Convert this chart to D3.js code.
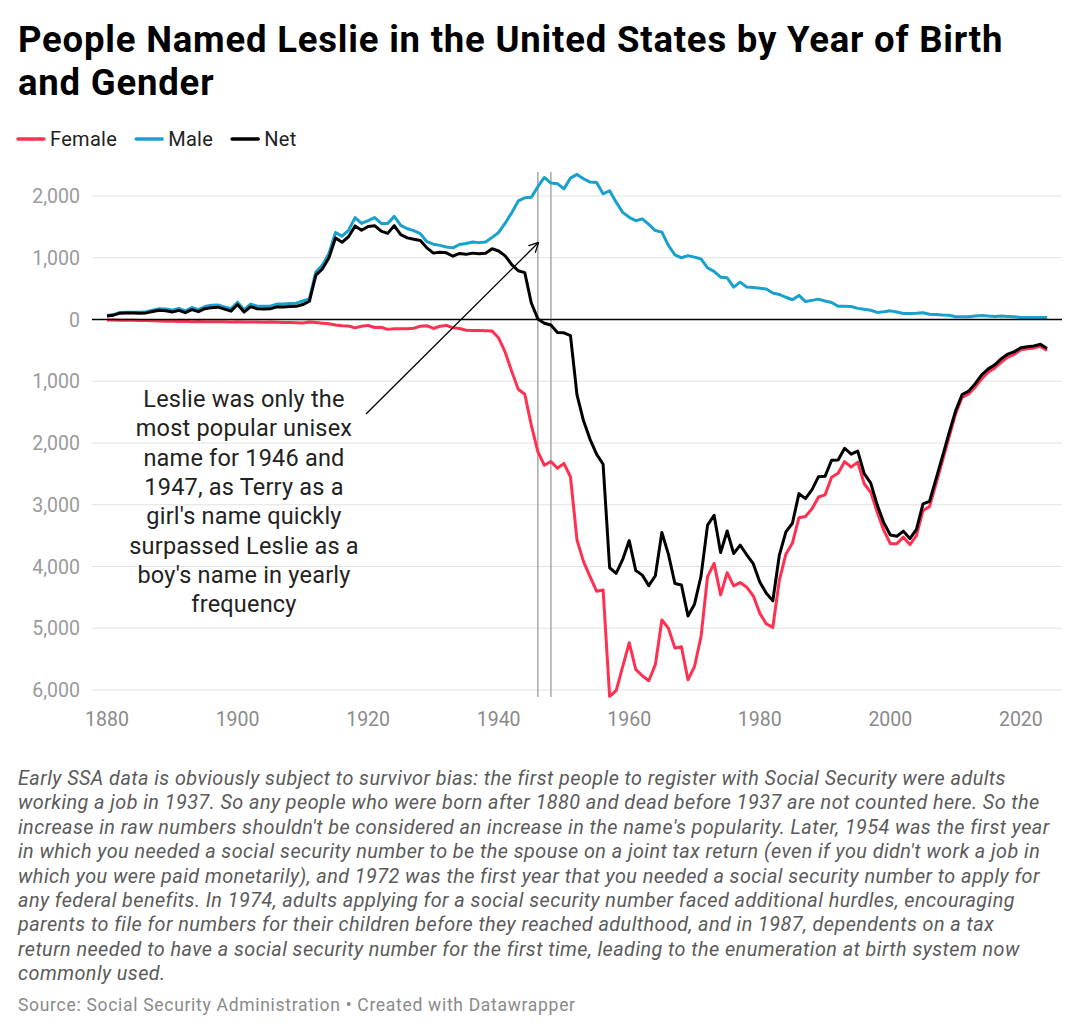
<!DOCTYPE html>
<html>
<head>
<meta charset="utf-8">
<script src="https://cdn.jsdelivr.net/npm/d3@7"></script>
<style>
  body { margin: 0; background: #fff; font-family: Roboto, "Noto Sans", sans-serif; }
  svg { display: block; }
</style>
</head>
<body>
<div id="chart"></div>
<script>
const WIDTH = 1080;
const HEIGHT = 1034;

const FIRST_YEAR = 1880;
const LAST_YEAR = 2024;

// births per year (1880 .. 2024)
const male = [
  65, 80, 115, 118, 118, 118, 125, 150, 175, 170,
  150, 180, 140, 195, 160, 210, 230, 235, 205, 175,
  280, 160, 250, 215, 215, 215, 250, 250, 260, 265,
  300, 335, 770, 880, 1070, 1410, 1350, 1445, 1650, 1555,
  1600, 1650, 1555, 1555, 1670, 1525, 1470, 1440, 1390, 1260,
  1220, 1200, 1175, 1160, 1215, 1230, 1255, 1245, 1255, 1330,
  1410, 1560, 1730, 1920, 1970, 1978, 2150, 2300, 2210, 2200,
  2115, 2290, 2350, 2280, 2225, 2220, 2035, 2085, 1900, 1735,
  1655, 1600, 1630, 1540, 1440, 1415, 1200, 1045, 1000, 1035,
  1010, 980, 835, 780, 685, 675, 525, 605, 525, 520,
  505, 495, 430, 405, 360, 320, 390, 290, 310, 330,
  300, 275, 215, 215, 210, 180, 165, 150, 115, 125,
  140, 120, 97, 97, 100, 108, 85, 80, 72, 70,
  45, 45, 45, 55, 65, 55, 50, 55, 50, 45,
  32, 32, 33, 33, 32
];

const female = [
  10, 10, 12, 12, 14, 15, 18, 22, 25, 28,
  30, 32, 30, 35, 33, 35, 38, 35, 37, 40,
  38, 40, 42, 40, 45, 42, 45, 48, 48, 52,
  58, 40, 50, 60, 70, 90, 100, 105, 135, 110,
  95, 130, 125, 160, 150, 150, 148, 140, 110, 100,
  145, 110, 95, 135, 145, 175, 180, 180, 182, 185,
  300, 530, 840, 1130, 1210, 1710, 2140, 2360, 2300, 2410,
  2330, 2550, 3570, 3920, 4165, 4400, 4380, 6105, 6010, 5620,
  5235, 5665, 5770, 5850, 5590, 4865, 5000, 5320, 5300, 5835,
  5620, 5135, 4165, 3950, 4460, 4100, 4315, 4260, 4335, 4475,
  4755, 4930, 4985, 4220, 3800, 3620, 3210, 3190, 3065, 2875,
  2840, 2555, 2490, 2300, 2390, 2310, 2660, 2800, 3120, 3415,
  3630, 3630, 3525, 3645, 3500, 3095, 3030, 2660, 2285, 1905,
  1525, 1260, 1205, 1095, 960, 855, 785, 690, 610, 565,
  490, 475, 460, 435, 500
];

const net = [
  55, 70, 103, 106, 104, 103, 107, 128, 150, 142,
  120, 148, 110, 160, 127, 175, 192, 200, 168, 135,
  242, 120, 208, 175, 170, 173, 205, 202, 212, 213,
  242, 295, 720, 820, 1000, 1320, 1250, 1340, 1515, 1445,
  1505, 1520, 1430, 1395, 1520, 1375, 1322, 1300, 1280, 1160,
  1075, 1090, 1080, 1025, 1070, 1055, 1075, 1065, 1073, 1145,
  1110, 1030, 890, 790, 760, 268, 10, -60, -90, -210,
  -215, -260, -1220, -1640, -1940, -2180, -2345, -4020, -4110, -3885,
  -3580, -4065, -4140, -4310, -4150, -3450, -3800, -4275, -4300, -4800,
  -4610, -4155, -3330, -3170, -3775, -3425, -3790, -3655, -3810, -3955,
  -4250, -4435, -4555, -3815, -3440, -3300, -2820, -2900, -2755, -2545,
  -2540, -2280, -2275, -2085, -2180, -2130, -2495, -2650, -3005, -3290,
  -3490, -3510, -3428, -3548, -3400, -2987, -2945, -2580, -2213, -1835,
  -1480, -1215, -1160, -1040, -895, -800, -735, -635, -560, -520,
  -458, -443, -427, -402, -468
];

const yTicks = [2000, 1000, 0, -1000, -2000, -3000, -4000, -5000, -6000];
const xTicks = [1880, 1900, 1920, 1940, 1960, 1980, 2000, 2020];
const markedYears = [1946, 1948];

const seriesNames = ["Female", "Male", "Net"];
const seriesColors = ["#ff3152", "#18a1cd", "#000000"];

const titleLines = [
  "People Named Leslie in the United States by Year of Birth",
  "and Gender"
];
const annotationLines = [
  "Leslie was only the",
  "most popular unisex",
  "name for 1946 and",
  "1947, as Terry as a",
  "girl's name quickly",
  "surpassed Leslie as a",
  "boy's name in yearly",
  "frequency"
];
const noteLines = [
  "Early SSA data is obviously subject to survivor bias: the first people to register with Social Security were adults",
  "working a job in 1937. So any people who were born after 1880 and dead before 1937 are not counted here. So the",
  "increase in raw numbers shouldn't be considered an increase in the name's popularity. Later, 1954 was the first year",
  "in which you needed a social security number to be the spouse on a joint tax return (even if you didn't work a job in",
  "which you were paid monetarily), and 1972 was the first year that you needed a social security number to apply for",
  "any federal benefits. In 1974, adults applying for a social security number faced additional hurdles, encouraging",
  "parents to file for numbers for their children before they reached adulthood, and in 1987, dependents on a tax",
  "return needed to have a social security number for the first time, leading to the enumeration at birth system now",
  "commonly used."
];
const sourceText = "Source: Social Security Administration \u2022 Created with Datawrapper";

const years = d3.range(FIRST_YEAR, LAST_YEAR + 1);
const rows = years.map((y, i) => ({
  year: y,
  female: -female[i],
  male: male[i],
  net: net[i]
}));

const svg = d3.select("#chart").append("svg")
  .attr("width", WIDTH)
  .attr("height", HEIGHT);

// title
svg.append("text")
  .attr("x", 18)
  .attr("y", 52)
  .attr("font-size", 36.5)
  .attr("font-weight", 700)
  .attr("letter-spacing", 0.8)
  .attr("fill", "#000")
  .selectAll("tspan")
  .data(titleLines)
  .join("tspan")
  .attr("x", 18)
  .attr("dy", (d, i) => i === 0 ? 0 : 43)
  .text(d => d);

// legend
const legend = svg.append("g").attr("transform", "translate(18,139)");
let lx = 0;
seriesNames.forEach((name, i) => {
  const g = legend.append("g").attr("transform", `translate(${lx},0)`);
  g.append("line")
    .attr("x1", 0).attr("x2", 26)
    .attr("y1", 0).attr("y2", 0)
    .attr("stroke", seriesColors[i])
    .attr("stroke-width", 3.5)
    .attr("stroke-linecap", "round");
  const t = g.append("text")
    .attr("x", 32)
    .attr("y", 7)
    .attr("font-size", 20)
    .attr("letter-spacing", 0.3)
    .attr("fill", "#222")
    .text(name);
  lx += 32 + t.node().getComputedTextLength() + 19;
});

// scales
const x = d3.scaleLinear()
  .domain([FIRST_YEAR, LAST_YEAR])
  .range([107, 1047]);

const y = d3.scaleLinear()
  .domain([-6000, 2000])
  .range([690, 196]);

const GRID_LEFT = 92;
const GRID_RIGHT = 1062;

// gridlines + y labels
const yAxis = svg.append("g");
yAxis.selectAll("line")
  .data(yTicks.filter(d => d !== 0))
  .join("line")
  .attr("x1", GRID_LEFT).attr("x2", GRID_RIGHT)
  .attr("y1", d => y(d)).attr("y2", d => y(d))
  .attr("stroke", "#e2e2e2")
  .attr("stroke-width", 1.2);

yAxis.selectAll("text")
  .data(yTicks)
  .join("text")
  .attr("x", 80)
  .attr("y", d => y(d) + 7)
  .attr("text-anchor", "end")
  .attr("font-size", 19.5)
  .attr("fill", "#9a9a9a")
  .text(d => d3.format(",")(Math.abs(d)));

// x labels
svg.append("g").selectAll("text")
  .data(xTicks)
  .join("text")
  .attr("x", d => x(d))
  .attr("y", 726)
  .attr("text-anchor", "middle")
  .attr("font-size", 19.5)
  .attr("fill", "#8a8a8a")
  .text(d => d);

// marker lines for 1946 / 1948
svg.append("g").selectAll("line")
  .data(markedYears)
  .join("line")
  .attr("x1", d => x(d)).attr("x2", d => x(d))
  .attr("y1", 172).attr("y2", 697)
  .attr("stroke", "#a8a8a8")
  .attr("stroke-width", 1.5);

// series lines
const keys = ["female", "male", "net"];
const lineGen = key => d3.line()
  .x(d => x(d.year))
  .y(d => y(d[key]));

keys.forEach((key, i) => {
  svg.append("path")
    .datum(rows)
    .attr("fill", "none")
    .attr("stroke", seriesColors[i])
    .attr("stroke-width", 3)
    .attr("stroke-linejoin", "round")
    .attr("d", lineGen(key));
});

// zero line on top
svg.append("line")
  .attr("x1", GRID_LEFT).attr("x2", GRID_RIGHT)
  .attr("y1", y(0)).attr("y2", y(0))
  .attr("stroke", "#000")
  .attr("stroke-width", 1.3);

// annotation
svg.append("defs").append("marker")
  .attr("id", "arrow")
  .attr("viewBox", "0 0 10 10")
  .attr("refX", 9).attr("refY", 5)
  .attr("markerWidth", 10).attr("markerHeight", 10)
  .attr("markerUnits", "userSpaceOnUse")
  .attr("orient", "auto")
  .append("path")
  .attr("d", "M0,0 L10,5 L0,10")
  .attr("fill", "none")
  .attr("stroke", "#000")
  .attr("stroke-width", 1.3);

svg.append("line")
  .attr("x1", 366).attr("y1", 414)
  .attr("x2", 538).attr("y2", 243)
  .attr("stroke", "#000")
  .attr("stroke-width", 1.3)
  .attr("marker-end", "url(#arrow)");

svg.append("text")
  .attr("font-size", 23.5)
  .attr("letter-spacing", 0.2)
  .attr("fill", "#222")
  .attr("text-anchor", "middle")
  .selectAll("tspan")
  .data(annotationLines)
  .join("tspan")
  .attr("x", 244)
  .attr("y", (d, i) => 407 + i * 29.3)
  .text(d => d);

// notes
svg.append("text")
  .attr("font-size", 19.8)
  .attr("font-style", "italic")
  .attr("letter-spacing", 0.45)
  .attr("fill", "#5a5a5a")
  .selectAll("tspan")
  .data(noteLines)
  .join("tspan")
  .attr("x", 18)
  .attr("y", (d, i) => 785 + i * 24.4)
  .text(d => d);

svg.append("text")
  .attr("x", 18)
  .attr("y", 1011)
  .attr("font-size", 17.5)
  .attr("letter-spacing", 0.7)
  .attr("fill", "#8a8a8a")
  .text(sourceText);
</script>
</body>
</html>
